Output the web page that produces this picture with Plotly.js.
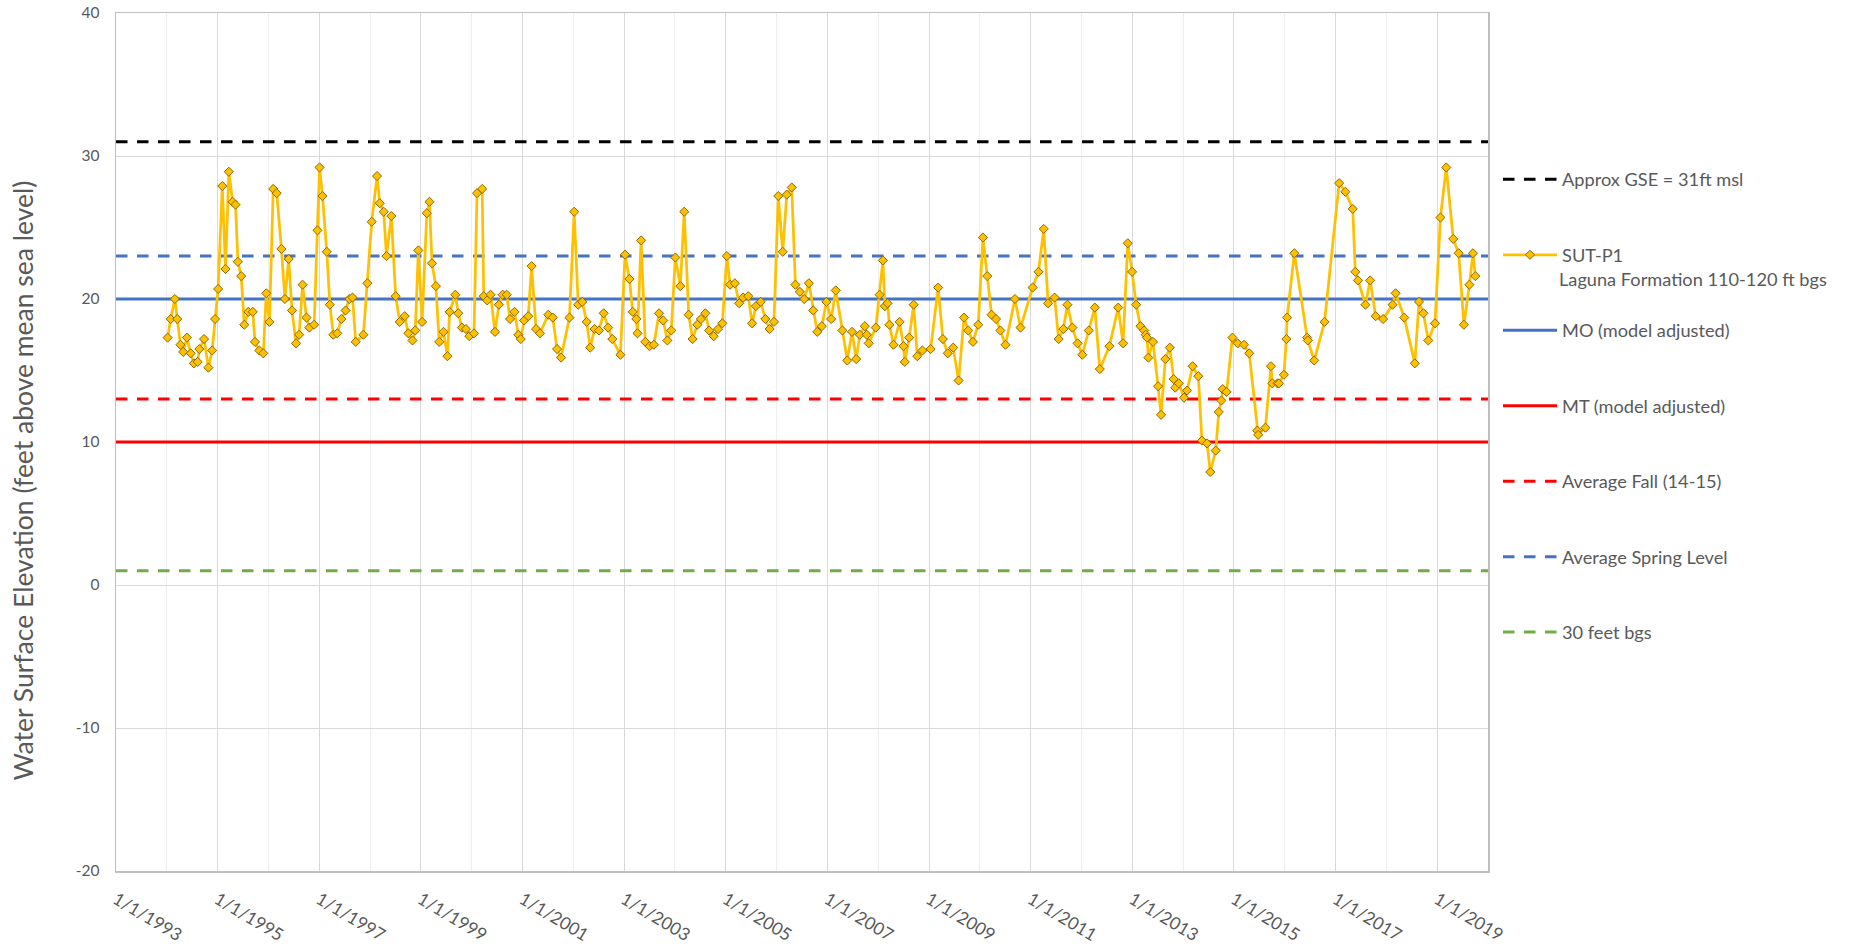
<!DOCTYPE html>
<html>
<head>
<meta charset="utf-8">
<script src="https://cdn.plot.ly/plotly-3.0.1.min.js"></script>
<style>html,body{margin:0;padding:0;background:#fff;}#chart{width:1854px;height:947px;}</style>
</head>
<body>
<div id="chart"></div>
<script>
// ---- Data: SUT-P1 water surface elevation (ft msl) ----
const sutDates = [
"1994-01-07","1994-01-29","1994-02-28","1994-03-17","1994-04-09","1994-04-29","1994-05-26","1994-06-22","1994-07-15","1994-08-11",
"1994-08-23","1994-09-26","1994-10-27","1994-11-23","1994-12-14","1995-01-05","1995-02-04","1995-02-27","1995-03-23","1995-04-19",
"1995-05-10","1995-05-27","1995-06-20","1995-07-12","1995-08-10","1995-09-11","1995-09-27","1995-10-28","1995-11-26","1995-12-17",
"1996-01-09","1996-02-05","1996-03-01","1996-04-04","1996-04-29","1996-05-26","1996-06-19","1996-07-18","1996-08-09","1996-09-03",
"1996-10-01","1996-10-22","1996-11-25","1996-12-19","1997-01-03","1997-01-24","1997-02-24","1997-03-18","1997-04-12","1997-05-10",
"1997-06-09","1997-07-09","1997-08-05","1997-08-28","1997-09-20","1997-11-14","1997-12-13","1998-01-13","1998-02-20","1998-03-12",
"1998-04-09","1998-04-29","1998-06-03","1998-07-04","1998-08-02","1998-09-07","1998-10-03","1998-11-02","1998-11-22","1998-12-14",
"1999-01-10","1999-02-13","1999-03-04","1999-03-22","1999-04-19","1999-05-13","1999-06-13","1999-07-11","1999-07-27","1999-09-06",
"1999-09-27","1999-10-23","1999-11-21","1999-12-15","2000-01-18","2000-02-09","2000-03-17","2000-03-28","2000-04-22","2000-05-16",
"2000-06-17","2000-07-15","2000-08-11","2000-09-09","2000-10-03","2000-11-04","2000-12-02","2000-12-19","2001-01-12","2001-02-11",
"2001-03-07","2001-04-08","2001-05-06","2001-07-05","2001-08-06","2001-09-06","2001-10-05","2001-12-04","2002-01-07","2002-02-05",
"2002-03-06","2002-04-07","2002-05-02","2002-06-03","2002-07-04","2002-08-07","2002-09-08","2002-10-08","2002-12-05","2003-01-08",
"2003-02-08","2003-03-04","2003-03-30","2003-04-07","2003-05-03","2003-06-02","2003-07-03","2003-08-03","2003-09-09","2003-10-09",
"2003-11-08","2003-12-06","2004-01-04","2004-02-09","2004-03-08","2004-04-09","2004-05-07","2004-06-10","2004-07-06","2004-08-07",
"2004-09-03","2004-10-06","2004-11-06","2004-12-07","2005-01-08","2005-02-01","2005-03-07","2005-04-07","2005-05-06","2005-06-11",
"2005-07-09","2005-08-05","2005-09-09","2005-10-12","2005-11-12","2005-12-13","2006-01-13","2006-02-14","2006-03-15","2006-04-20",
"2006-05-16","2006-06-17","2006-07-18","2006-08-21","2006-09-21","2006-10-20","2006-11-22","2006-12-25","2007-01-28","2007-03-02",
"2007-04-19","2007-05-24","2007-06-27","2007-07-27","2007-08-22","2007-09-27","2007-10-11","2007-10-25","2007-12-15","2008-01-11",
"2008-02-04","2008-02-18","2008-03-08","2008-03-22","2008-04-20","2008-06-03","2008-07-01","2008-07-10","2008-08-11","2008-09-12",
"2008-10-08","2008-11-14","2009-01-12","2009-03-07","2009-04-10","2009-05-15","2009-06-23","2009-08-01","2009-09-09","2009-10-09",
"2009-11-12","2009-12-20","2010-01-23","2010-02-23","2010-03-26","2010-04-27","2010-05-28","2010-07-04","2010-09-10","2010-10-20",
"2011-01-15","2011-02-26","2011-04-05","2011-05-06","2011-06-22","2011-07-21","2011-08-24","2011-09-22","2011-10-28","2011-12-04",
"2012-01-07","2012-02-23","2012-04-06","2012-05-12","2012-07-20","2012-09-21","2012-10-26","2012-11-29","2012-12-30","2013-01-28",
"2013-02-28","2013-03-27","2013-04-07","2013-04-16","2013-04-26","2013-05-29","2013-07-05","2013-07-26","2013-08-26","2013-09-27",
"2013-10-25","2013-11-05","2013-12-01","2014-01-07","2014-01-29","2014-03-10","2014-04-20","2014-05-16","2014-06-22","2014-07-15",
"2014-08-23","2014-09-14","2014-10-03","2014-10-12","2014-11-09","2014-12-21","2015-01-28","2015-03-14","2015-04-21","2015-06-18",
"2015-06-24","2015-08-15","2015-09-24","2015-10-04","2015-11-10","2015-11-21","2015-12-26","2016-01-13","2016-01-18","2016-03-10",
"2016-06-10","2016-06-15","2016-07-31","2016-10-13","2017-01-26","2017-03-12","2017-05-04","2017-05-22","2017-06-11","2017-08-03",
"2017-09-06","2017-10-16","2017-12-08","2018-02-14","2018-03-08","2018-05-09","2018-07-24","2018-08-23","2018-09-24","2018-10-29",
"2018-12-16","2019-01-24","2019-03-07","2019-04-26","2019-06-04","2019-07-12","2019-08-20","2019-09-15","2019-10-02"
];
const sutValues = [
17.3,18.6,20.0,18.6,16.8,16.3,17.3,16.2,15.5,15.6,
16.5,17.2,15.2,16.4,18.6,20.7,27.9,22.1,28.9,26.8,
26.6,22.6,21.6,18.2,19.1,19.1,17.0,16.4,16.2,20.4,
18.4,27.7,27.4,23.5,20.0,22.8,19.2,16.9,17.5,21.0,
18.7,18.0,18.2,24.8,29.2,27.2,23.3,19.6,17.5,17.6,
18.6,19.2,20.0,20.1,17.0,17.5,21.1,25.4,28.6,26.7,
26.1,23.0,25.8,20.2,18.4,18.8,17.6,17.1,17.8,23.4,
18.4,26.0,26.8,22.5,20.9,17.0,17.7,16.0,19.1,20.3,
19.0,18.0,17.9,17.4,17.6,27.4,27.7,20.2,19.9,20.3,
17.7,19.6,20.3,20.3,18.6,19.1,17.5,17.2,18.5,18.8,
22.3,17.9,17.6,18.9,18.7,16.5,15.9,18.7,26.1,19.6,
19.8,18.4,16.6,17.9,17.8,19.0,18.0,17.2,16.1,23.1,
21.4,19.1,18.6,17.6,24.1,17.0,16.7,16.8,19.0,18.5,
17.1,17.8,22.9,20.9,26.1,18.9,17.2,18.2,18.6,19.0,
17.8,17.4,17.9,18.3,23.0,21.0,21.1,19.7,20.1,20.2,
18.3,19.5,19.8,18.6,17.9,18.4,27.2,23.3,27.3,27.8,
21.0,20.5,20.0,21.1,19.2,17.7,18.1,19.8,18.6,20.6,
17.8,15.7,17.7,15.8,17.5,18.1,17.5,16.9,18.0,20.3,
22.7,19.5,19.7,18.2,16.8,18.4,16.7,15.6,17.3,19.6,
16.0,16.4,16.5,20.8,17.2,16.2,16.6,14.3,18.7,17.8,
17.0,18.2,24.3,21.6,18.9,18.6,17.8,16.8,20.0,18.0,
20.8,21.9,24.9,19.7,20.1,17.2,17.9,19.6,18.0,16.9,
16.1,17.8,19.4,15.1,16.7,19.4,16.9,23.9,21.9,19.6,
18.1,17.8,17.5,17.3,15.9,17.0,13.9,11.9,15.8,16.6,
14.4,13.8,14.1,13.1,13.6,15.3,14.6,10.1,9.9,7.9,
9.4,12.1,12.9,13.7,13.5,17.3,16.9,16.8,16.2,10.8,
10.5,11.0,15.3,14.1,14.1,14.1,14.7,17.2,18.7,23.2,
17.3,17.1,15.7,18.4,28.1,27.5,26.3,21.9,21.3,19.6,
21.3,18.8,18.6,19.6,20.4,18.7,15.5,19.8,19.0,17.1,
18.3,25.7,29.2,24.2,23.2,18.2,21.0,23.2,21.6
];

// ---- Reference levels (ft msl) ----
const refSpan = ["1993-01-01", "2020-01-01"];
const gseLevel = 31;       // Approx GSE = 31ft msl
const springLevel = 23;    // Average Spring Level
const moLevel = 20;        // MO (model adjusted)
const fallLevel = 13;      // Average Fall (14-15)
const mtLevel = 10;        // MT (model adjusted)
const bgs30Level = 1;      // 30 feet bgs

// ---- Tick labels ----
const yTickVals = [-20, -10, 0, 10, 20, 30, 40];
const yTickText = ["-20", "-10", "0", "10", "20", "30", "40"];

// ---- Text ----
const sutName = "SUT-P1";
const sutSubName = "Laguna Formation 110-120 ft bgs";
const yTitle = "Water Surface Elevation (feet above mean sea level)";

const FONT = "Lato, 'Liberation Sans', sans-serif";
const TXT = "#595959";
const DASH = "11.5px,9.5px";

function refTrace(name, level, color, dash, rank) {
  return {
    type: "scatter", mode: "lines", name: name,
    x: refSpan, y: [level, level],
    line: {color: color, width: 3, dash: dash},
    legendrank: rank, legendgroup: "g" + rank,
    hoverinfo: "skip", cliponaxis: true
  };
}

const traces = [
  refTrace("Approx GSE = 31ft msl", gseLevel, "#000000", DASH, 1),
  refTrace("MO (model adjusted)", moLevel, "#4472C4", "solid", 3),
  refTrace("MT (model adjusted)", mtLevel, "#FF0000", "solid", 4),
  refTrace("Average Fall (14-15)", fallLevel, "#FF0000", DASH, 5),
  refTrace("Average Spring Level", springLevel, "#4472C4", DASH, 6),
  refTrace("30 feet bgs", bgs30Level, "#70AD47", DASH, 7),
  {
    type: "scatter", mode: "lines+markers", name: sutName,
    x: sutDates, y: sutValues,
    line: {color: "#FFC000", width: 2.75},
    marker: {symbol: "diamond", size: 7, color: "#FFC000", line: {color: "#8C6900", width: 1}},
    legendrank: 2, legendgroup: "g2", cliponaxis: false
  }
];

const layout = {
  width: 1854, height: 947,
  margin: {l: 116, r: 366, t: 13, b: 76},
  paper_bgcolor: "#ffffff", plot_bgcolor: "#ffffff",
  font: {family: FONT, size: 17, color: TXT},
  showlegend: true,
  legend: {
    x: 1.0073, xanchor: "left", y: 0.8275, yanchor: "top",
    font: {family: FONT, size: 18.2, color: TXT},
    tracegroupgap: 48.8, itemwidth: 54, bgcolor: "rgba(0,0,0,0)",
    itemclick: false, itemdoubleclick: false
  },
  xaxis: {
    type: "date", range: refSpan,
    tick0: "1993-01-01", dtick: "M24", tickformat: "%-m/%-d/%Y",
    tickangle: 31, ticks: "", ticklabelstandoff: 10,
    tickfont: {family: FONT, size: 17.5, color: TXT},
    showgrid: true, gridcolor: "#D9D9D9", gridwidth: 1,
    minor: {tick0: "1993-01-01", dtick: "M12", showgrid: true, gridcolor: "#EFEFEF", gridwidth: 1},
    showline: true, linecolor: "#BFBFBF", linewidth: 1.5, mirror: true,
    zeroline: false, fixedrange: true
  },
  yaxis: {
    range: [-20, 40], tickmode: "array", tickvals: yTickVals, ticktext: yTickText, ticks: "",
    tickfont: {family: FONT, size: 15.5, color: TXT},
    ticklabelstandoff: 12,
    showgrid: true, gridcolor: "#D9D9D9", gridwidth: 1,
    showline: true, linecolor: "#BFBFBF", linewidth: 1.5, mirror: true,
    zeroline: false, fixedrange: true
  },
  annotations: [
    {text: yTitle, xref: "paper", yref: "paper", x: -0.0675, y: 0.4557,
     xanchor: "center", yanchor: "middle", textangle: -90, showarrow: false,
     font: {family: FONT, size: 26.5, color: TXT}},
    {text: sutSubName, xref: "paper", yref: "paper", x: 1.0505, y: 0.690,
     xanchor: "left", yanchor: "middle", showarrow: false,
     font: {family: FONT, size: 18.2, color: TXT}}
  ]
};

Plotly.newPlot("chart", traces, layout, {displayModeBar: false, staticPlot: true});
</script>
</body>
</html>
